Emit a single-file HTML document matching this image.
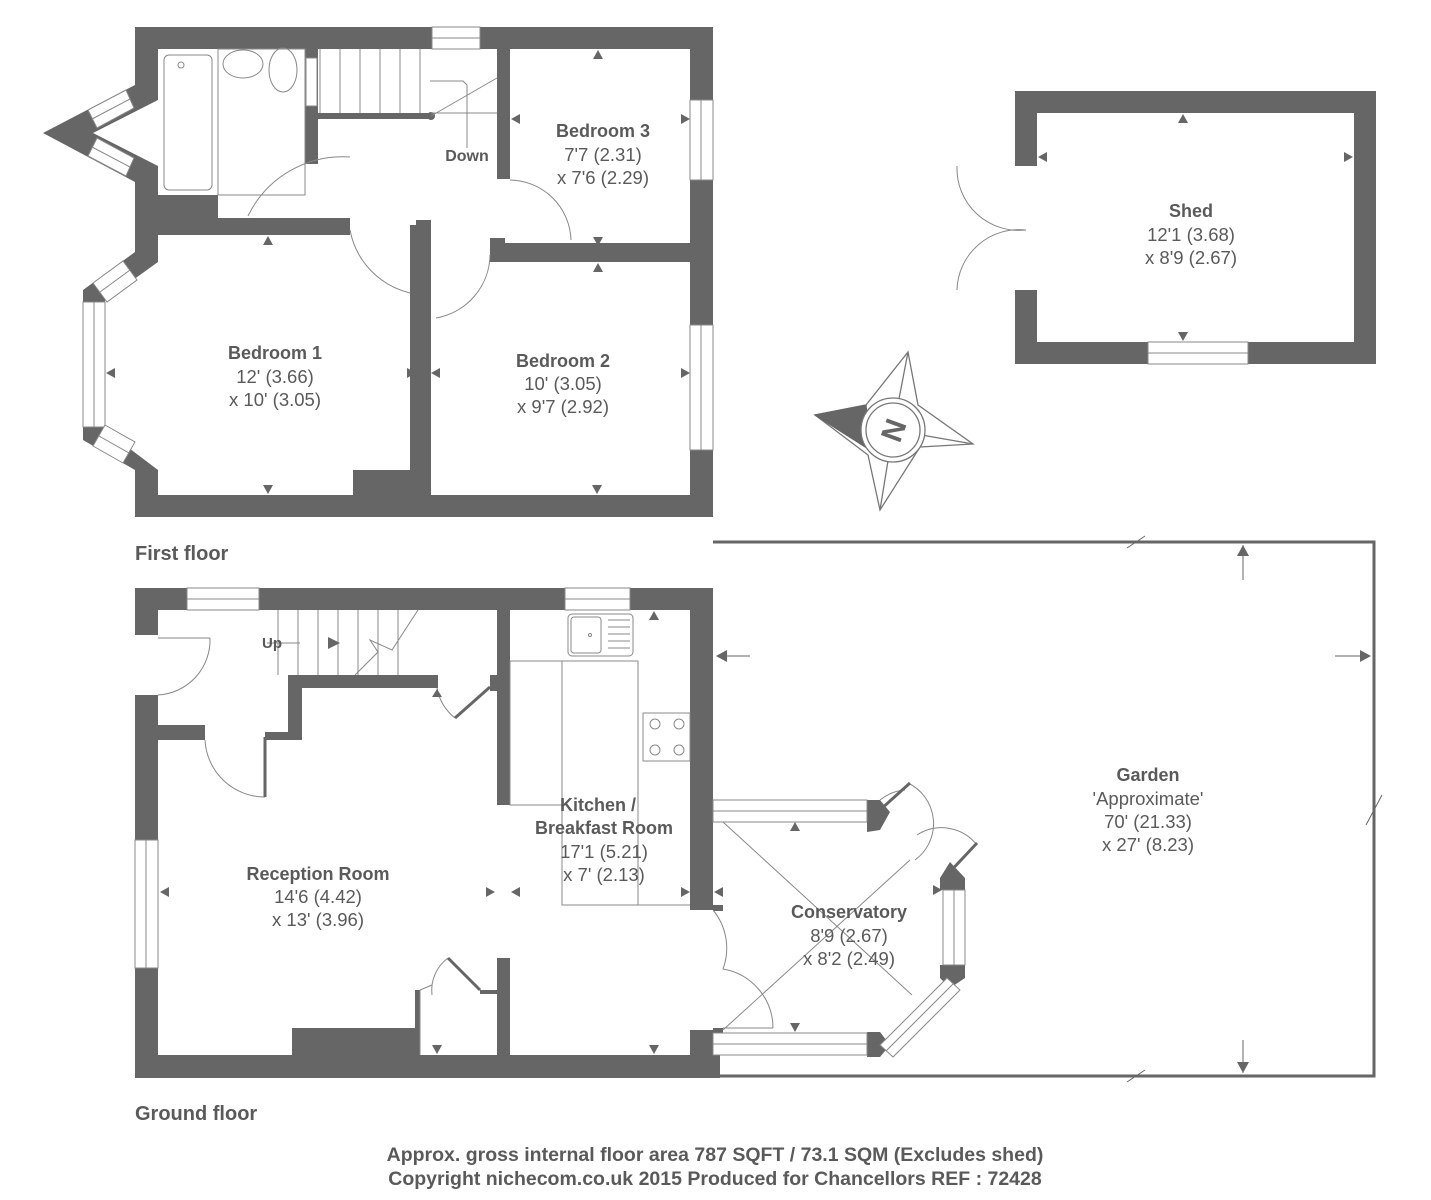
<!DOCTYPE html>
<html><head><meta charset="utf-8"><style>
html,body{margin:0;padding:0;background:#fff;}
svg{display:block;}
text{font-family:"Liberation Sans",sans-serif;fill:#5a5a5a;}
.b{font-weight:bold;font-size:18px;}
.r{font-size:18.5px;}
</style></head><body>
<svg width="1431" height="1200" viewBox="0 0 1431 1200" xmlns="http://www.w3.org/2000/svg">
<g fill="#666" stroke="none">
<rect x="135" y="27" width="578" height="22"/>
<rect x="135" y="495" width="578" height="22"/>
<rect x="690" y="27" width="23" height="490"/>
<rect x="135" y="27" width="23" height="490"/>
<polygon points="135,85 43,133 135,182"/>
<polygon points="135,252 83,290 83,440 135,470"/>
<rect x="158" y="195" width="60" height="40"/>
<rect x="158" y="218" width="192" height="17"/>
<rect x="305" y="49" width="13" height="115"/>
<rect x="318" y="113" width="113" height="6"/>
<circle cx="431" cy="116" r="4"/>
<rect x="497" y="49" width="13" height="130"/>
<rect x="410" y="225" width="20" height="270"/>
<rect x="416" y="220" width="15" height="275"/>
<rect x="353" y="470" width="63" height="25"/>
<rect x="497" y="243" width="193" height="19"/>
<rect x="490" y="238" width="15" height="24"/>
<rect x="1015" y="91" width="361" height="22"/>
<rect x="1015" y="342" width="361" height="22"/>
<rect x="1354" y="91" width="22" height="273"/>
<rect x="1015" y="91" width="22" height="75"/>
<rect x="1015" y="290" width="22" height="74"/>
<rect x="135" y="588" width="578" height="22"/>
<rect x="135" y="1055" width="585" height="23"/>
<rect x="690" y="588" width="23" height="322"/>
<rect x="135" y="588" width="23" height="47"/>
<rect x="135" y="695" width="23" height="383"/>
<rect x="158" y="725" width="47" height="15"/>
<rect x="265" y="732" width="37" height="8"/>
<rect x="288" y="675" width="14" height="65"/>
<rect x="288" y="675" width="150" height="13"/>
<rect x="490" y="675" width="10" height="16"/>
<rect x="497" y="610" width="13" height="195"/>
<rect x="497" y="958" width="13" height="97"/>
<rect x="292" y="1028" width="128" height="27"/>
<rect x="415" y="990" width="5" height="40"/>
<rect x="690" y="1030" width="23" height="25"/>
<rect x="713" y="1028" width="10" height="6"/>
<rect x="713" y="905" width="10" height="6"/>
<polygon points="867,800 880,800 890,812 880,830 867,832"/>
<polygon points="867,1032 880,1032 890,1045 880,1057 867,1057"/>
<polygon points="940,878 950,862 965,878 965,890 940,890"/>
<polygon points="940,965 965,965 965,978 950,988 940,978"/>
</g>
<!-- interiors over wall polygons -->
<g fill="#fff" stroke="none">
<polygon points="158,100 93,133 158,166"/>
<polygon points="158,262 105,300 105,430 158,470"/>
</g>
<g fill="#fff" stroke="#888" stroke-width="1">
<rect x="432" y="27" width="48" height="22"/><line x1="432" y1="38" x2="480" y2="38"/>
<rect x="690" y="100" width="23" height="80"/><line x1="701" y1="100" x2="701" y2="180"/>
<rect x="690" y="325" width="23" height="125"/><line x1="701" y1="325" x2="701" y2="450"/>
<rect x="306" y="58" width="11" height="48"/>
<rect x="1148" y="342" width="100" height="22"/><line x1="1148" y1="353" x2="1248" y2="353"/>
<rect x="187" y="588" width="72" height="22"/><line x1="187" y1="599" x2="259" y2="599"/>
<rect x="565" y="588" width="65" height="22"/><line x1="565" y1="599" x2="630" y2="599"/>
<rect x="135" y="840" width="23" height="128"/><line x1="146" y1="840" x2="146" y2="968"/>
<rect x="83" y="302" width="22" height="125"/><line x1="94" y1="302" x2="94" y2="427"/>
<polygon points="88,110 126,90 134,108 97,128"/><line x1="92" y1="119" x2="130" y2="99"/>
<polygon points="88,156 126,176 134,158 97,138"/><line x1="92" y1="147" x2="130" y2="167"/>
<polygon points="93,283 123,261 137,280 107,302"/><line x1="100" y1="292" x2="130" y2="270"/>
<polygon points="93,446 123,463 135,442 105,425"/><line x1="99" y1="436" x2="129" y2="453"/>
<rect x="713" y="800" width="154" height="22"/><line x1="713" y1="811" x2="867" y2="811"/>
<rect x="713" y="1033" width="154" height="22"/><line x1="713" y1="1044" x2="867" y2="1044"/>
<rect x="943" y="890" width="22" height="75"/><line x1="954" y1="890" x2="954" y2="965"/>
<polygon points="880,1045 947,978 960,990 893,1057"/>
<line x1="886" y1="1051" x2="953" y2="984"/>
</g>
<g fill="none" stroke="#888" stroke-width="1">
<rect x="164" y="55" width="48" height="135" rx="5"/>
<circle cx="181" cy="65" r="3"/>
<rect x="218" y="49" width="87" height="146"/>
<ellipse cx="243" cy="64" rx="20" ry="14"/>
<ellipse cx="283" cy="70" rx="14" ry="22"/>
<line x1="340" y1="49" x2="340" y2="113"/><line x1="360" y1="49" x2="360" y2="113"/><line x1="380" y1="49" x2="380" y2="113"/><line x1="400" y1="49" x2="400" y2="113"/><line x1="420" y1="49" x2="420" y2="113"/><line x1="320" y1="49" x2="320" y2="113"/>
<line x1="431" y1="116" x2="497" y2="78"/><line x1="431" y1="113" x2="497" y2="113"/>
<polyline points="430,81 463,81 467,85 467,148"/>
<path d="M248,216 A 105 105 0 0 1 350 157" />
<path d="M350,230 A 80 80 0 0 0 410 293"/>
<path d="M436,318 A 65 65 0 0 0 490 255"/>
<path d="M510,180 A 62 62 0 0 1 571 240"/>
<path d="M957,290 A 62 62 0 0 1 1026 230 M957,166 A 62 62 0 0 0 1026 230"/>
<line x1="278" y1="610" x2="278" y2="675"/><line x1="298" y1="610" x2="298" y2="675"/><line x1="318" y1="610" x2="318" y2="675"/><line x1="338" y1="610" x2="338" y2="675"/><line x1="358" y1="610" x2="358" y2="675"/><line x1="378" y1="610" x2="378" y2="675"/><line x1="398" y1="610" x2="398" y2="675"/>
<polyline points="355,675 378,652 370,640 392,650 418,610"/>
<line x1="267" y1="643" x2="300" y2="643"/>
<path d="M158,695 A 55 55 0 0 0 210 638"/><line x1="158" y1="638" x2="210" y2="638"/>
<path d="M205,740 A 60 60 0 0 0 265 797"/><line x1="265" y1="737" x2="265" y2="797" stroke="#666" stroke-width="3"/>
<path d="M437,688 A 50 50 0 0 0 455 718"/><line x1="455" y1="718" x2="490" y2="687" stroke="#666" stroke-width="3"/>
<rect x="568" y="614" width="65" height="42" rx="4"/><rect x="571" y="617" width="30" height="36" rx="3"/>
<circle cx="590" cy="635" r="1.5"/>
<line x1="608" y1="620" x2="630" y2="620"/><line x1="608" y1="627" x2="630" y2="627"/><line x1="608" y1="634" x2="630" y2="634"/><line x1="608" y1="641" x2="630" y2="641"/><line x1="608" y1="648" x2="630" y2="648"/>
<rect x="562" y="661" width="76" height="244"/>
<rect x="510" y="661" width="52" height="144"/>
<rect x="643" y="713" width="47" height="48"/>
<circle cx="655" cy="724" r="5"/><circle cx="679" cy="724" r="5"/><circle cx="655" cy="750" r="5"/><circle cx="679" cy="750" r="5"/>
<line x1="638" y1="905" x2="690" y2="905"/>
<path d="M713,910 A 60 60 0 0 1 723 969 A 60 60 0 0 1 773 1028"/>
<line x1="723" y1="1028" x2="773" y2="1028"/>
<line x1="723" y1="822" x2="912" y2="995"/>
<line x1="723" y1="1030" x2="910" y2="860"/>
<path d="M880,800 A 45 45 0 0 1 905 790 M908,783 A 45 45 0 0 1 915 860"/>
<line x1="880" y1="810" x2="910" y2="783" stroke="#666" stroke-width="3"/>
<path d="M917,835 A 45 45 0 0 1 977 845"/>
<line x1="947" y1="875" x2="977" y2="843" stroke="#666" stroke-width="3"/>
<path d="M420,990 L420,1055 M420,990 L432,985"/>
<path d="M432,995 A 40 40 0 0 1 448 958"/>
<line x1="448" y1="958" x2="480" y2="990" stroke="#666" stroke-width="3"/>
<line x1="480" y1="992" x2="497" y2="992" stroke="#666" stroke-width="4"/>
</g>
<g stroke="#666" stroke-width="3" fill="none">
<polyline points="713,542 1374,542 1374,1076 713,1076"/>
</g>
<g stroke="#666" stroke-width="1" fill="none">
<line x1="1127" y1="548" x2="1145" y2="536"/><line x1="1127" y1="1082" x2="1145" y2="1070"/>
<line x1="1366" y1="825" x2="1382" y2="795"/>
<line x1="1243" y1="545" x2="1243" y2="580"/><line x1="1243" y1="1040" x2="1243" y2="1073"/>
<line x1="720" y1="656" x2="750" y2="656"/><line x1="1335" y1="656" x2="1370" y2="656"/>
</g>
<g fill="#666">
<polygon points="1243,545 1237,556 1249,556"/><polygon points="1243,1073 1237,1062 1249,1062"/>
<polygon points="716,656 727,650 727,662"/><polygon points="1371,656 1360,650 1360,662"/>
<polygon points="598,50 593,59 603,59"/><polygon points="598,246 593,237 603,237"/><polygon points="598,263 593,272 603,272"/>
<polygon points="511,119 520,114 520,124"/><polygon points="690,119 681,114 681,124"/>
<polygon points="268,236 263,245 273,245"/><polygon points="268,494 263,485 273,485"/>
<polygon points="106,373 115,368 115,378"/><polygon points="416,373 407,368 407,378"/><polygon points="431,373 440,368 440,378"/>
<polygon points="690,373 681,368 681,378"/><polygon points="597,494 592,485 602,485"/>
<polygon points="1183,114 1178,123 1188,123"/><polygon points="1183,341 1178,332 1188,332"/>
<polygon points="1038,157 1047,152 1047,162"/><polygon points="1353,157 1344,152 1344,162"/>
<polygon points="340,643 328,637 328,649"/>
<polygon points="654,611 649,620 659,620"/><polygon points="437,689 432,697 442,697"/>
<polygon points="495,892 486,887 486,897"/><polygon points="511,892 520,887 520,897"/>
<polygon points="690,892 681,887 681,897"/><polygon points="714,892 723,887 723,897"/>
<polygon points="160,892 169,887 169,897"/>
<polygon points="437,1054 432,1045 442,1045"/><polygon points="654,1054 649,1045 659,1045"/>
<polygon points="795,822 790,831 800,831"/><polygon points="795,1032 790,1023 800,1023"/>
<polygon points="942,890 933,885 933,895"/>
</g>
<g stroke="#777" stroke-width="1.3" fill="#fff">
<polygon points="908,352 918,405 973,444 920,447 880,510 868,455 815,415 866,405"/>
<line x1="908" y1="352" x2="893" y2="430"/><line x1="973" y1="444" x2="893" y2="430"/><line x1="880" y1="510" x2="893" y2="430"/>
<polygon points="815,415 866,405 870,450" fill="#666" stroke="#666"/>
<circle cx="893" cy="430" r="32"/><circle cx="893" cy="430" r="27"/>
</g>
<text x="893" y="441" text-anchor="middle" transform="rotate(-70 893 430)" style="font-weight:bold;font-size:30px;fill:#666">N</text>
<text class="b" x="603" y="137" text-anchor="middle">Bedroom 3</text>
<text class="r" x="603" y="161" text-anchor="middle">7'7 (2.31)</text>
<text class="r" x="603" y="184" text-anchor="middle">x 7'6 (2.29)</text>
<text class="b" x="467" y="161" text-anchor="middle" style="font-size:16px">Down</text>
<text class="b" x="275" y="359" text-anchor="middle">Bedroom 1</text>
<text class="r" x="275" y="383" text-anchor="middle">12' (3.66)</text>
<text class="r" x="275" y="406" text-anchor="middle">x 10' (3.05)</text>
<text class="b" x="563" y="367" text-anchor="middle">Bedroom 2</text>
<text class="r" x="563" y="390" text-anchor="middle">10' (3.05)</text>
<text class="r" x="563" y="413" text-anchor="middle">x 9'7 (2.92)</text>
<text class="b" x="1191" y="217" text-anchor="middle">Shed</text>
<text class="r" x="1191" y="241" text-anchor="middle">12'1 (3.68)</text>
<text class="r" x="1191" y="264" text-anchor="middle">x 8'9 (2.67)</text>
<text class="b" x="135" y="560" style="font-size:20px">First floor</text>
<text class="b" x="262" y="648" style="font-size:15px">Up</text>
<text class="b" x="598" y="811" text-anchor="middle">Kitchen /</text>
<text class="b" x="604" y="834" text-anchor="middle">Breakfast Room</text>
<text class="r" x="604" y="858" text-anchor="middle">17'1 (5.21)</text>
<text class="r" x="604" y="881" text-anchor="middle">x 7' (2.13)</text>
<text class="b" x="318" y="880" text-anchor="middle">Reception Room</text>
<text class="r" x="318" y="903" text-anchor="middle">14'6 (4.42)</text>
<text class="r" x="318" y="926" text-anchor="middle">x 13' (3.96)</text>
<text class="b" x="849" y="918" text-anchor="middle">Conservatory</text>
<text class="r" x="849" y="942" text-anchor="middle">8'9 (2.67)</text>
<text class="r" x="849" y="965" text-anchor="middle">x 8'2 (2.49)</text>
<text class="b" x="1148" y="781" text-anchor="middle">Garden</text>
<text class="r" x="1148" y="805" text-anchor="middle">'Approximate'</text>
<text class="r" x="1148" y="828" text-anchor="middle">70' (21.33)</text>
<text class="r" x="1148" y="851" text-anchor="middle">x 27' (8.23)</text>
<text class="b" x="135" y="1120" style="font-size:20px">Ground floor</text>
<text class="b" x="715" y="1161" text-anchor="middle" style="font-size:19.5px">Approx. gross internal floor area 787 SQFT / 73.1 SQM (Excludes shed)</text>
<text class="b" x="715" y="1185" text-anchor="middle" style="font-size:19.5px">Copyright nichecom.co.uk 2015 Produced for Chancellors REF : 72428</text>
</svg>
</body></html>
